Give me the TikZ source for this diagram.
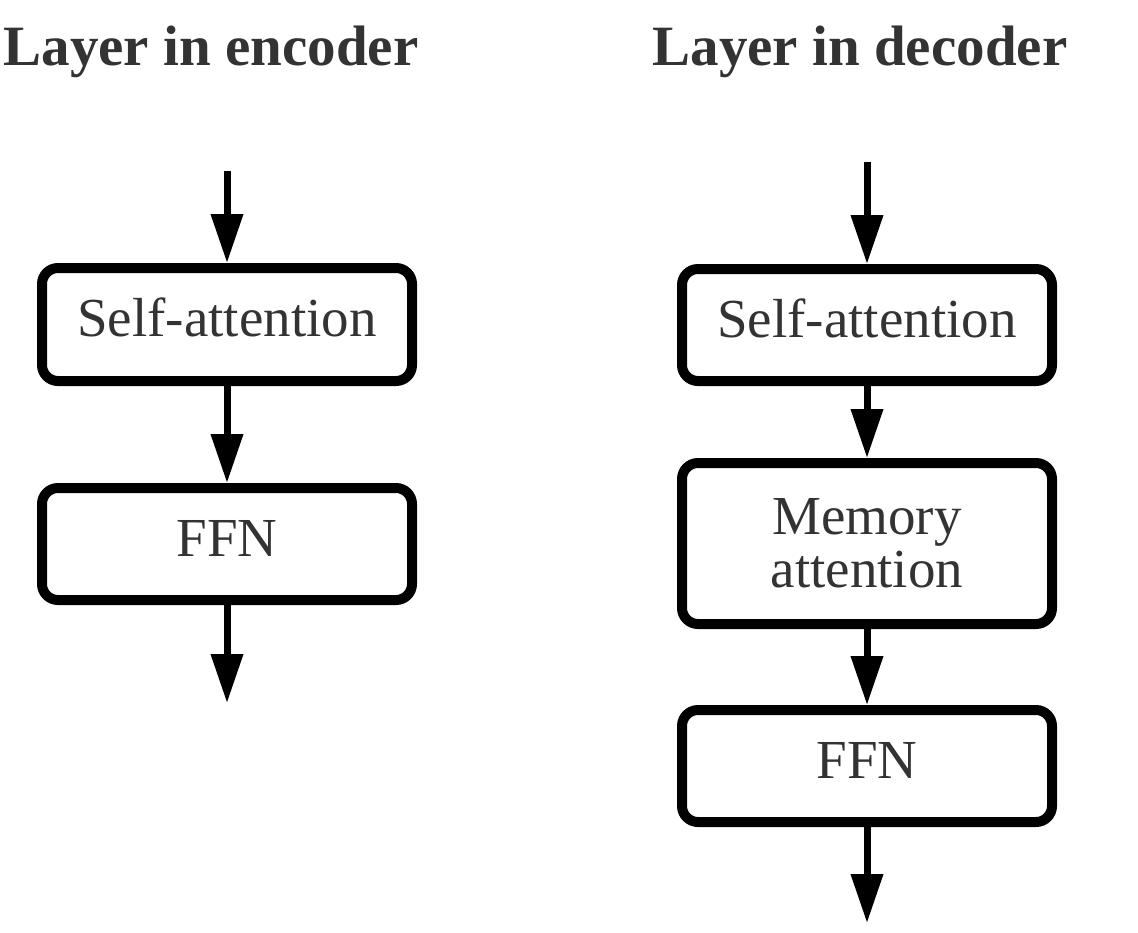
\documentclass[tikz,border=0pt]{standalone}
\usepackage{fontspec}
\setmainfont{Liberation Serif}
\usetikzlibrary{arrows.meta}
\definecolor{txt}{HTML}{333333}
\tikzset{
  block/.style={draw=black, line width=10pt, rounded corners=16pt, fill=white,
    minimum width=370pt, inner sep=0pt, text=txt, align=center,
    font=\fontsize{55}{53}\selectfont},
  oneline/.style={block, text height=24pt, text depth=0pt},
  title/.style={text=txt, font=\fontsize{57}{60}\selectfont\bfseries, anchor=base, inner sep=0pt},
  flow/.style={line width=7pt, -{Triangle[length=49pt, width=31pt]}}
}
\begin{document}
\begin{tikzpicture}[x=1pt,y=-1pt]
\useasboundingbox (0,0) rectangle (1138,932);
% titles
\node[title] (t1) at (211,65) {Layer in encoder};
\node[title] (t2) at (860,65) {Layer in decoder};
% encoder
\coordinate (ein) at (227,171);
\node[oneline, minimum height=113pt] (esa) at (227,324.5) {Self-attention};
\node[oneline, minimum height=112pt] (effn) at (227,544) {FFN};
\coordinate (eout) at (227,703);
\draw[flow] (ein) -- (esa.north);
\draw[flow] (esa.south) -- (effn.north);
\draw[flow] (effn.south) -- (eout);
% decoder
\coordinate (din) at (867,162);
\node[oneline, minimum height=112pt] (dsa) at (867,325) {Self-attention};
\node[block, minimum height=161pt] (dma) at (867,543.5) {Memory\\attention};
\node[oneline, minimum height=112pt] (dffn) at (867,766) {FFN};
\coordinate (dout) at (867,923);
\draw[flow] (din) -- (dsa.north);
\draw[flow] (dsa.south) -- (dma.north);
\draw[flow] (dma.south) -- (dffn.north);
\draw[flow] (dffn.south) -- (dout);
\end{tikzpicture}
\end{document}
